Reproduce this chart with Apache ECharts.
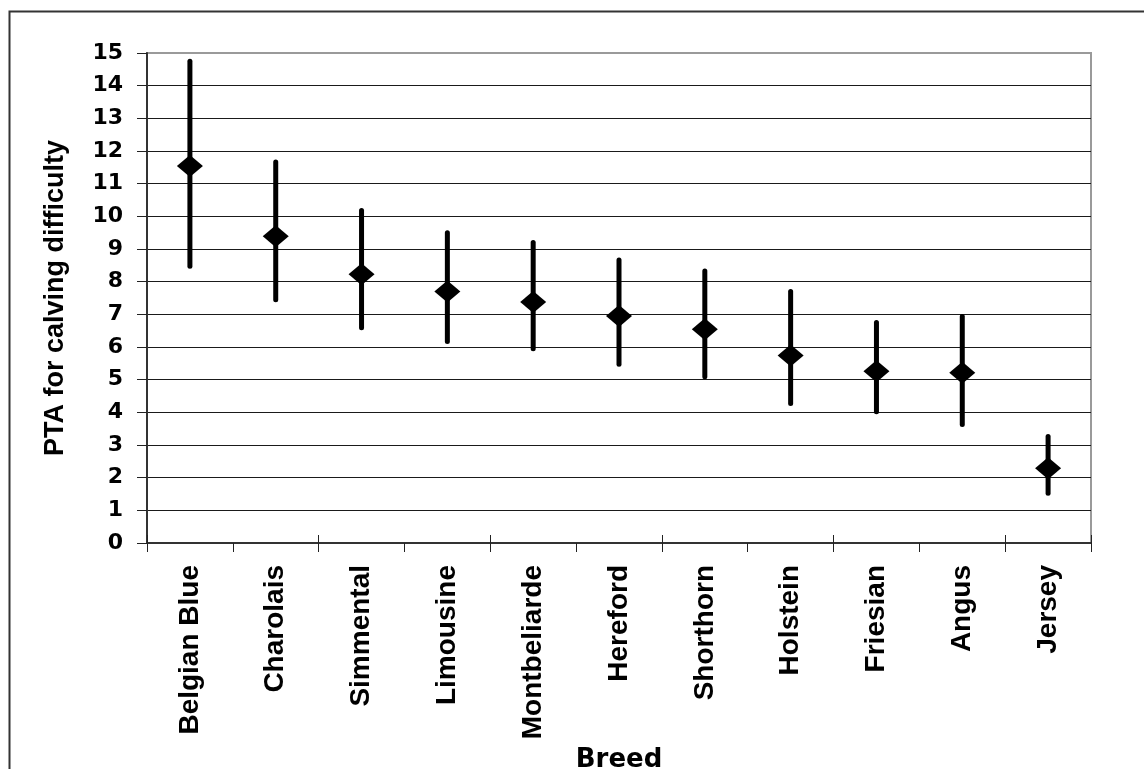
<!DOCTYPE html>
<html>
<head>
<meta charset="utf-8">
<script src="https://cdn.jsdelivr.net/npm/echarts@6/dist/echarts.min.js"></script>
<style>
html,body{margin:0;padding:0;background:#fff;}
#chart{width:1144px;height:769px;}
</style>
</head>
<body>
<div id="chart"></div>
<script>
const breeds = ['Belgian Blue','Charolais','Simmental','Limousine','Montbeliarde','Hereford','Shorthorn','Holstein','Friesian','Angus','Jersey'];
const pta = [11.54, 9.39, 8.23, 7.70, 7.38, 6.95, 6.54, 5.74, 5.26, 5.21, 2.29];
const lower = [8.47, 7.45, 6.59, 6.17, 5.95, 5.47, 5.09, 4.27, 4.02, 3.63, 1.52];
const upper = [14.75, 11.66, 10.18, 9.50, 9.20, 8.66, 8.33, 7.70, 6.75, 6.93, 3.26];
const yTicks = [0,1,2,3,4,5,6,7,8,9,10,11,12,13,14,15];

const chart = echarts.init(document.getElementById('chart'), null, {renderer:'canvas'});
const errData = breeds.map((b,i)=>[i, lower[i], upper[i]]);
const gridColors = yTicks.map((v,i)=> i === yTicks.length-1 ? '#9a9a9a' : '#1a1a1a');

chart.setOption({
  backgroundColor:'#fff',
  animation:false,
  graphic:[{
    type:'rect', z:0, silent:true,
    shape:{x:9.5,y:11.5,width:1200,height:800},
    style:{fill:'none',stroke:'#333',lineWidth:2}
  }],
  grid:{left:147,right:53,top:53,bottom:226,outerBoundsMode:'none',containLabel:false,
    show:true,borderColor:'#9a9a9a',borderWidth:2,backgroundColor:'transparent'},
  xAxis:[{
    type:'category', data:breeds,
    boundaryGap:true,
    axisLine:{show:true,lineStyle:{color:'#333',width:2}},
    axisTick:{show:true,inside:false,length:9,lineStyle:{color:'#222',width:1}},
    axisLabel:{rotate:90,margin:22,color:'#000',fontFamily:'Liberation Sans',fontWeight:'bold',fontSize:28},
    name:'Breed', nameLocation:'middle', nameGap:192,
    nameTextStyle:{color:'#000',fontFamily:'DejaVu Sans',fontWeight:'bold',fontSize:26}
  },{
    type:'category', data:breeds, position:'bottom',
    boundaryGap:true,
    axisLine:{show:false},
    axisTick:{show:true,inside:true,length:8,lineStyle:{color:'#222',width:1}},
    axisLabel:{show:false}
  }],
  yAxis:{
    type:'value', min:0, max:15, interval:1,
    axisLine:{show:true,lineStyle:{color:'#333',width:2}},
    axisTick:{show:true,inside:false,length:10,lineStyle:{color:'#222',width:1}},
    axisLabel:{margin:24,color:'#000',fontFamily:'DejaVu Sans',fontWeight:'bold',fontSize:22,
      formatter:(v)=> yTicks.indexOf(v)>=0 ? String(v) : ''},
    splitLine:{show:true,lineStyle:{color:gridColors,width:1}},
    name:'PTA for calving difficulty', nameLocation:'middle', nameGap:78, nameRotate:90,
    nameTextStyle:{color:'#000',fontFamily:'Liberation Sans',fontWeight:'bold',fontSize:27}
  },
  series:[{
    type:'custom',
    data:errData,
    z:3,
    renderItem:function(params, api){
      const x = api.value(0);
      const p1 = api.coord([x, api.value(1)]);
      const p2 = api.coord([x, api.value(2)]);
      return {type:'line', shape:{x1:p1[0],y1:p1[1],x2:p2[0],y2:p2[1]},
        style:{stroke:'#000',lineWidth:5,lineCap:'round'}};
    },
    encode:{x:0,y:[1,2]}
  },{
    type:'scatter',
    data:pta,
    symbol:'diamond',
    symbolSize:[26,22],
    itemStyle:{color:'#000',opacity:1,borderWidth:0},
    emphasis:{disabled:true},
    z:4
  }]
});
</script>
</body>
</html>
